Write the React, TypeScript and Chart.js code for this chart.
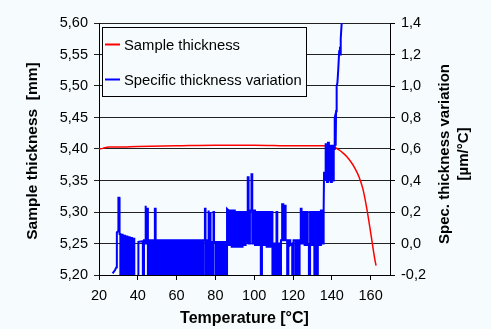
import React, { useEffect, useRef } from "react";
import { Chart, registerables } from "chart.js";

Chart.register(...registerables);

// Axis ranges / ticks
const xTicks = [20, 40, 60, 80, 100, 120, 140, 160];
const leftMin = 5.2;
const leftMax = 5.6;
const rightMin = -0.2;
const rightMax = 1.4;

const xTitle = "Temperature [°C]";
const leftTitle = "Sample thickness  [mm]";
const rightTitle1 = "Spec. thickness variation";
const rightTitle2 = "[µm/°C]";
const legendLabels = ["Sample thickness", "Specific thickness variation"];

// Sample thickness [mm] vs temperature
const redSeries: [number, number][] = [
  [20, 5.4], [22, 5.401], [25, 5.403], [30, 5.403], [40, 5.404], [60, 5.405],
  [80, 5.406], [100, 5.406], [120, 5.405], [135, 5.405], [140, 5.404],
  [142, 5.402], [144, 5.398], [146, 5.393], [148, 5.387], [150, 5.379],
  [152, 5.369], [154, 5.356], [156, 5.337], [158, 5.306], [160, 5.268],
  [162, 5.228], [162.8, 5.215],
];

// Specific thickness variation [µm/°C] vs temperature
const blueSeries: [number, number][] = [
  [27.0, -0.19], [28.2, -0.17], [29.0, -0.15], [29.2, 0.07], [29.9, 0.08], [30.0, 0.29], [30.5, 0.29], [30.6, 0.06],
  [31.0, 0.06], [31.0, -0.3], [31.6, -0.3], [31.6, 0.055], [32.2, 0.055], [32.2, -0.3], [32.8, -0.3], [32.8, 0.05],
  [33.4, 0.05], [33.4, -0.3], [34.0, -0.3], [34.0, 0.045], [34.6, 0.045], [34.6, -0.3], [35.2, -0.3], [35.2, 0.04],
  [35.8, 0.04], [35.8, -0.3], [36.4, -0.3], [36.4, 0.035], [37.0, 0.035], [37.0, -0.3], [37.6, -0.3], [37.6, 0.03],
  [38.2, 0.03], [38.2, -0.3], [40.3, -0.3], [40.3, 0.01], [42.6, 0.015], [42.6, -0.3], [43.2, -0.3], [43.2, 0.02],
  [43.8, 0.02], [43.8, 0.24], [44.2, 0.24], [44.2, 0.0], [44.6, 0.0], [44.6, 0.22], [45.2, 0.22], [45.2, -0.3],
  [45.8, -0.3], [45.8, 0.02],
  [46.4, 0.02], [46.4, -0.3], [47.0, -0.3], [47.0, 0.02], [47.6, 0.02], [47.6, -0.3], [48.2, -0.3], [48.2, 0.02],
  [48.8, 0.02], [48.8, 0.22], [49.2, 0.22], [49.2, -0.3], [49.8, -0.3], [49.8, 0.02], [50.6, 0.02], [50.6, -0.3],
  [51.4, -0.3], [51.4, 0.02], [52.2, 0.02], [52.2, -0.3], [53.0, -0.3], [53.0, 0.02], [53.8, 0.02], [53.8, -0.3],
  [54.6, -0.3], [54.6, 0.02], [55.4, 0.02], [55.4, -0.3], [56.2, -0.3], [56.2, 0.02], [57.0, 0.02], [57.0, -0.3],
  [57.8, -0.3], [57.8, 0.02], [58.6, 0.02], [58.6, -0.3], [59.4, -0.3], [59.4, 0.02], [60.2, 0.02], [60.2, -0.3],
  [61.0, -0.3], [61.0, 0.02], [61.8, 0.02], [61.8, -0.3], [62.6, -0.3], [62.6, 0.02], [63.4, 0.02], [63.4, -0.3],
  [64.2, -0.3], [64.2, 0.02], [65.0, 0.02], [65.0, -0.3], [65.8, -0.3], [65.8, 0.02], [66.6, 0.02], [66.6, -0.3],
  [67.4, -0.3], [67.4, 0.02], [68.2, 0.02], [68.2, -0.3], [69.0, -0.3], [69.0, 0.02], [69.8, 0.02], [69.8, -0.3],
  [70.6, -0.3], [70.6, 0.02], [71.4, 0.02], [71.4, -0.3], [72.2, -0.3], [72.2, 0.02], [73.0, 0.02], [73.0, -0.3],
  [73.8, -0.3], [73.8, 0.02], [74.6, 0.02], [74.6, 0.22], [74.9, 0.22], [74.9, -0.3], [75.6, -0.3], [75.6, 0.02],
  [76.3, 0.02], [76.3, 0.21], [76.6, 0.21], [76.6, -0.3], [77.3, -0.3], [77.3, 0.2], [77.6, 0.2], [77.6, 0.01],
  [78.4, 0.01], [78.4, -0.3], [79.0, -0.3], [79.0, 0.2], [79.3, 0.2], [79.3, 0.01], [80.2, 0.01], [80.2, -0.3],
  [81.0, -0.3], [81.0, 0.01], [81.8, 0.01], [81.8, -0.3], [82.6, -0.3], [82.6, 0.01], [83.6, 0.01], [83.6, -0.3],
  [84.4, -0.3], [84.4, 0.01], [85.2, 0.01], [85.2, -0.3], [86.0, -0.3], [86.0, 0.22],
  [86.8, 0.21], [86.8, -0.01], [87.6, -0.01], [87.6, 0.21], [88.4, 0.21], [88.4, -0.02], [89.2, -0.02], [89.2, 0.21],
  [90.0, 0.21], [90.0, -0.02], [90.8, -0.02], [90.8, 0.2], [91.6, 0.2], [91.6, -0.02], [92.4, -0.02], [92.4, 0.2],
  [93.2, 0.2], [93.2, -0.02], [94.0, -0.02], [94.0, 0.2], [94.8, 0.2], [94.8, -0.01], [95.6, -0.01], [95.6, 0.2],
  [96.4, 0.2], [96.4, 0.0], [96.8, 0.0], [96.8, 0.42], [97.1, 0.42], [97.1, 0.0], [97.8, 0.0], [97.8, 0.21],
  [98.6, 0.21], [98.6, 0.44], [99.0, 0.44], [99.0, 0.0], [99.6, 0.0], [99.6, 0.21], [100.4, 0.21], [100.4, -0.01],
  [101.2, -0.01], [101.2, 0.2], [102.0, 0.2], [102.0, -0.01], [102.8, -0.01], [102.8, 0.2], [103.4, 0.2], [103.4, -0.3],
  [104.0, -0.3], [104.0, 0.2], [104.8, 0.2], [104.8, -0.01], [105.6, -0.01], [105.6, 0.2], [106.4, 0.2], [106.4, -0.02],
  [107.2, -0.02], [107.2, 0.2], [108.0, 0.2], [108.0, -0.02], [108.6, -0.02], [108.6, 0.2], [109.4, 0.2], [109.4, -0.3],
  [110.2, -0.3], [110.2, 0.0], [110.8, 0.0], [110.8, -0.3], [111.5, -0.3], [111.5, 0.2], [111.9, 0.2], [111.9, -0.3],
  [112.6, -0.3], [112.6, 0.0], [113.2, 0.0], [113.2, -0.3], [113.8, -0.3], [113.8, 0.02], [114.4, 0.02], [114.4, 0.25],
  [115.0, 0.25], [115.0, 0.02], [115.6, 0.02], [115.6, 0.24], [116.2, 0.24], [116.2, 0.02], [117.0, 0.02], [117.0, -0.3],
  [117.6, -0.3], [117.6, 0.02], [118.6, 0.02], [118.6, -0.01], [119.6, 0.0], [119.6, -0.3], [120.3, -0.3], [120.3, 0.02],
  [121.4, 0.02], [121.4, -0.3], [122.0, -0.3], [122.0, 0.02], [122.8, 0.02], [122.8, -0.3], [123.4, -0.3], [123.4, 0.02],
  [124.0, 0.02], [124.0, 0.22], [124.4, 0.22], [124.4, 0.0], [125.2, 0.0], [125.2, 0.2], [126.0, 0.2], [126.0, -0.01],
  [126.8, -0.01], [126.8, 0.2], [127.6, 0.2], [127.6, -0.01], [128.2, -0.01], [128.2, -0.3], [128.8, -0.3], [128.8, 0.2],
  [129.6, 0.2], [129.6, -0.01], [130.4, -0.01], [130.4, 0.2], [131.0, 0.2], [131.0, -0.3], [131.6, -0.3], [131.6, 0.2],
  [132.2, 0.2], [132.2, -0.3], [132.8, -0.3], [132.8, 0.2], [133.6, 0.2], [133.6, -0.01], [134.4, -0.01], [134.4, 0.21],
  [135.2, 0.21], [135.2, 0.0], [135.8, 0.0], [135.8, 0.22], [136.0, 0.45], [136.5, 0.45], [136.5, 0.4],
  [137.0, 0.4], [137.0, 0.63], [137.5, 0.63], [137.5, 0.39], [138.0, 0.39], [138.0, 0.64], [138.5, 0.64], [138.5, 0.4],
  [139.0, 0.4], [139.0, 0.62], [139.5, 0.62], [139.5, 0.39], [140.0, 0.39], [140.0, 0.62], [140.5, 0.62], [140.5, 0.4],
  [141.0, 0.4], [141.0, 0.62], [141.3, 0.6], [141.5, 0.8], [141.9, 0.82], [142.0, 0.62], [142.2, 0.84], [142.5, 1.0],
  [142.9, 1.02], [143.3, 1.1], [143.6, 1.1], [143.8, 1.22], [144.2, 1.25], [144.4, 1.2], [144.6, 1.3], [145.0, 1.38],
  [145.3, 1.45], [145.6, 1.6],
];

const RED = "#ff0000";
const BLUE = "#0000ff";
const BG = "#f6fcfd";
const FONT = "'Liberation Sans', Arial, sans-serif";
const FS = 14.5;

const decor = {
  id: "decor",
  beforeDraw(chart: any) {
    const ctx = chart.ctx;
    ctx.save();
    ctx.fillStyle = BG;
    ctx.fillRect(0, 0, chart.width, chart.height);
    ctx.restore();
  },
  afterDraw(chart: any) {
    const ctx = chart.ctx;
    const a = chart.chartArea;
    ctx.save();
    // legend
    ctx.fillStyle = BG;
    ctx.fillRect(102.5, 27.5, 204, 69);
    ctx.strokeStyle = "#000";
    ctx.lineWidth = 1;
    ctx.strokeRect(102.5, 27.5, 204, 69);
    const colors = [RED, BLUE];
    const ys = [44.5, 79.5];
    ctx.font = `14.8px ${FONT}`;
    ctx.textBaseline = "middle";
    ctx.textAlign = "left";
    for (let i = 0; i < 2; i++) {
      ctx.strokeStyle = colors[i];
      ctx.lineWidth = 2;
      ctx.beginPath();
      ctx.moveTo(105, ys[i]);
      ctx.lineTo(120, ys[i]);
      ctx.stroke();
      ctx.fillStyle = "#000";
      ctx.fillText(legendLabels[i], 124, ys[i] + 1);
    }
    // titles
    ctx.fillStyle = "#000";
    ctx.textAlign = "center";
    ctx.textBaseline = "middle";
    ctx.font = `bold 16px ${FONT}`;
    ctx.fillText(xTitle, (a.left + a.right) / 2, 319);
    const cy = (a.top + a.bottom) / 2;
    const vtext = (t: string, x: number, y: number) => {
      ctx.save();
      ctx.translate(x, y);
      ctx.rotate(-Math.PI / 2);
      ctx.fillText(t, 0, 0);
      ctx.restore();
    };
    ctx.font = `bold 15.5px ${FONT}`;
    vtext(leftTitle, 33, cy + 2);
    ctx.font = `bold 15px ${FONT}`;
    vtext(rightTitle1, 445, cy + 5);
    vtext(rightTitle2, 464, cy + 5);
    ctx.restore();
  },
};

export default function App() {
  const ref = useRef<HTMLCanvasElement | null>(null);
  useEffect(() => {
    if (!ref.current) return;
    const tickFont = { family: FONT, size: FS };
    const chart = new Chart(ref.current, {
      type: "line",
      data: {
        datasets: [
          {
            label: legendLabels[1],
            data: blueSeries.map(([x, y]) => ({ x, y })),
            yAxisID: "y2",
            borderColor: BLUE,
            borderWidth: 2,
            pointRadius: 0,
            tension: 0,
            clip: 0,
            order: 1,
          },
          {
            label: legendLabels[0],
            data: redSeries.map(([x, y]) => ({ x, y })),
            yAxisID: "y",
            borderColor: RED,
            borderWidth: 1.5,
            pointRadius: 0,
            cubicInterpolationMode: "monotone",
            clip: 0,
            order: 2,
          },
        ],
      },
      options: {
        animation: false,
        responsive: false,
        events: [],
        layout: { padding: { top: 23, left: 0, right: 0, bottom: 0 } },
        plugins: { legend: { display: false }, tooltip: { enabled: false } },
        scales: {
          x: {
            type: "linear",
            min: 20,
            max: 170,
            afterFit: (s: any) => { s.height = 54; },
            afterBuildTicks: (s: any) => { s.ticks = xTicks.map((v) => ({ value: v })); },
            ticks: { font: tickFont, color: "#000", padding: 7, maxRotation: 0, autoSkip: false, callback: (v: any) => String(v) },
            grid: { drawOnChartArea: false, drawTicks: true, tickLength: 5, color: "#000" },
            border: { display: true, color: "#000", width: 1 },
          },
          y: {
            type: "linear",
            position: "left",
            min: leftMin,
            max: leftMax,
            afterFit: (s: any) => { s.width = 99; },
            ticks: {
              font: tickFont,
              color: "#000",
              padding: 6,
              stepSize: 0.05,
              callback: (v: any) => Number(v).toFixed(2).replace(".", ","),
            },
            grid: { drawOnChartArea: true, drawTicks: true, tickLength: 5, color: "#222" },
            border: { display: true, color: "#000", width: 1 },
          },
          y2: {
            type: "linear",
            position: "right",
            min: rightMin,
            max: rightMax,
            afterFit: (s: any) => { s.width = 101; },
            ticks: {
              font: tickFont,
              color: "#000",
              padding: 6,
              stepSize: 0.2,
              callback: (v: any) => Number(v).toFixed(1).replace(".", ",").replace("-0,0", "0,0"),
            },
            grid: { drawOnChartArea: false, drawTicks: true, tickLength: 5, color: "#000" },
            border: { display: true, color: "#000", width: 1 },
          },
        },
      } as any,
      plugins: [decor],
    });
    return () => chart.destroy();
  }, []);
  return (
    <div style={{ position: "absolute", left: 0, top: 0, width: 491, height: 329, background: BG }}>
      <canvas ref={ref} width={491} height={329} style={{ display: "block" }} />
    </div>
  );
}
